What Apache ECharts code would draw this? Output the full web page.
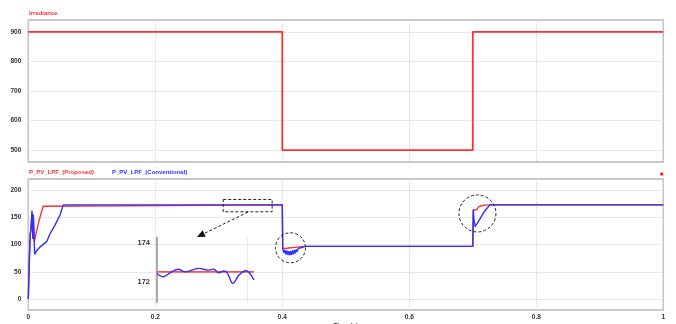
<!DOCTYPE html>
<html>
<head>
<meta charset="utf-8">
<script src="https://cdn.jsdelivr.net/npm/echarts@6/dist/echarts.min.js"></script>
<style>html,body{margin:0;padding:0;background:#fff;}#c{width:676px;height:324px;}</style>
</head>
<body>
<div id="c"></div>
<script>
// ---- data ----
const irrTime = [0, 0.4, 0.4, 0.7, 0.7, 1];
const irrValues = [900, 900, 500, 500, 900, 900];

const propTime = [0, 0.0016, 0.0031, 0.0047, 0.0063, 0.0071, 0.0079, 0.0094, 0.0131, 0.0173, 0.0215, 0.0236, 0.0252,
  0.4, 0.4008, 0.41, 0.42, 0.43, 0.4357,
  0.7, 0.7011, 0.7037, 0.7058, 0.7074, 0.7089, 0.7111, 0.7153, 0.7232, 1];
const propValues = [0, 72, 118, 140, 158, 130, 150, 105, 125, 145, 163, 170, 172.6,
  172.6, 92, 93.5, 94.8, 96, 96.5,
  96.5, 164, 165, 163, 166, 169, 170.5, 171.5, 172.6, 172.6];

const convTime = [0, 0.0016, 0.0031, 0.0040, 0.0058, 0.0071, 0.0079, 0.0100, 0.0131, 0.0173, 0.0289, 0.0341, 0.042, 0.0499, 0.0551,
  0.4, 0.4005, 0.4010, 0.4025, 0.4040, 0.4055, 0.4070, 0.4085, 0.4100, 0.4115, 0.4130, 0.4145, 0.4160, 0.4175,
  0.4190, 0.4205, 0.4220, 0.4235, 0.4250, 0.4265, 0.4280, 0.4295, 0.4320, 0.4357,
  0.7, 0.7006, 0.7016, 0.7037, 0.71, 0.7179, 0.7268, 1];
const convValues = [0, 70, 120, 125, 162, 110, 155, 82, 88.7, 94.2, 105.2, 119.2, 135.6, 153.9, 172.6,
  172.6, 98, 91, 85, 90, 82, 89, 81, 88, 80, 88, 81, 89, 82,
  90, 84, 91, 87, 93, 90, 95, 94, 96, 96.5,
  96.5, 163.6, 148.3, 132.5, 144.7, 159.9, 172.6, 172.6];

// zoomed inset (t = 0.307 .. 0.3834)
const insetTime = [0.307, 0.312, 0.3173, 0.3239, 0.3292, 0.3398, 0.3477, 0.3517, 0.3557, 0.3596, 0.3623, 0.3668, 0.3715, 0.3769, 0.3834];
const insetConv = [172.46, 172.29, 172.49, 172.67, 172.54, 172.72, 172.63, 172.67, 172.49, 172.58, 172.49, 171.95, 172.37, 172.6, 172.12];
const insetPropTime = [0.307, 0.3834];
const insetProp = [172.54, 172.54];

const topTicks = [500, 600, 700, 800, 900];
const bottomTicks = [0, 50, 100, 150, 200];
const insetTicks = [172, 174];
const insetGridX = [0.378];

const seriesNames = ['Irradiance', 'P_PV_LPF_(Proposed)', 'P_PV_LPF_(Conventional)'];

const zip = (a, b) => a.map((t, i) => [t, b[i]]);

// ---- chart ----
const RED = '#ff3030';
const BLUE = '#3030ff';
const FONT = 'Liberation Sans, Arial, sans-serif';
const lab = { fontSize: 6.5, fontWeight: 'bold', color: '#333', fontFamily: FONT };
const split = { show: true, lineStyle: { color: '#d4d4d4', type: [1, 1], width: 1 } };

const chart = echarts.init(document.getElementById('c'), null, { renderer: 'canvas' });
chart.setOption({
  animation: false,
  backgroundColor: '#fff',
  textStyle: { fontFamily: FONT },
  legend: [
    { data: [{ name: seriesNames[0], textStyle: { color: RED } }], left: 23, top: 10, itemWidth: 0, itemHeight: 0,
      padding: 0, textStyle: { fontSize: 6, fontWeight: 'bold', fontFamily: FONT }, selectedMode: false },
    { data: [{ name: seriesNames[1], textStyle: { color: RED } }, { name: seriesNames[2], textStyle: { color: BLUE } }],
      left: 23, top: 169.5, itemWidth: 0, itemHeight: 0, itemGap: 12, padding: 0,
      textStyle: { fontSize: 6, fontWeight: 'bold', fontFamily: FONT }, selectedMode: false }
  ],
  grid: [
    { left: 28.3, right: 12.7, top: 20, height: 142, show: true, borderColor: '#b8b8b8', borderWidth: 1.5,
      backgroundColor: 'transparent', outerBoundsMode: 'none', containLabel: false },
    { left: 28.3, right: 12.7, top: 179, height: 131, show: true, borderColor: '#b8b8b8', borderWidth: 1.5,
      backgroundColor: 'transparent', outerBoundsMode: 'none', containLabel: false },
    { left: 157, width: 97, top: 237.5, height: 64.4, show: false, outerBoundsMode: 'none', containLabel: false }
  ],
  xAxis: [
    { type: 'value', gridIndex: 0, min: 0, max: 1, interval: 0.2, axisLine: { show: false }, axisTick: { show: false },
      axisLabel: { show: false }, splitLine: split },
    { type: 'value', gridIndex: 1, min: 0, max: 1, interval: 0.2, axisLine: { show: false }, axisTick: { show: false },
      axisLabel: Object.assign({ margin: 4 }, lab), splitLine: split,
      name: 'Time (s)', nameLocation: 'middle', nameGap: 13, nameTextStyle: { fontSize: 6.5, fontWeight: 'bold', color: '#333' } },
    { type: 'value', gridIndex: 2, min: 0.307, max: 0.3834, axisLine: { show: false },
      axisTick: { show: false, customValues: insetGridX }, axisLabel: { show: false, customValues: insetGridX },
      splitLine: split }
  ],
  yAxis: [
    { type: 'value', gridIndex: 0, min: 460, max: 940, axisLine: { show: false },
      axisTick: { show: false, customValues: topTicks }, axisLabel: Object.assign({ margin: 7, customValues: topTicks }, lab),
      splitLine: split },
    { type: 'value', gridIndex: 1, min: -20, max: 220, axisLine: { show: false },
      axisTick: { show: false, customValues: bottomTicks }, axisLabel: Object.assign({ margin: 7, customValues: bottomTicks }, lab),
      splitLine: split },
    { type: 'value', gridIndex: 2, min: 171, max: 174.3, axisLine: { show: true, lineStyle: { color: '#aaa', width: 2 } },
      axisTick: { show: false, customValues: insetTicks },
      axisLabel: { margin: 7, customValues: insetTicks, fontSize: 7.5, fontWeight: 'bold', color: '#333', fontFamily: FONT },
      splitLine: { show: false } }
  ],
  series: [
    { name: seriesNames[0], type: 'line', xAxisIndex: 0, yAxisIndex: 0, data: zip(irrTime, irrValues), showSymbol: false,
      lineStyle: { color: RED, width: 1.8 }, itemStyle: { color: RED } },
    { name: seriesNames[1], type: 'line', xAxisIndex: 1, yAxisIndex: 1, data: zip(propTime, propValues), showSymbol: false,
      lineStyle: { color: RED, width: 1.4 }, itemStyle: { color: RED } },
    { name: seriesNames[2], type: 'line', xAxisIndex: 1, yAxisIndex: 1, data: zip(convTime, convValues), showSymbol: false,
      lineStyle: { color: BLUE, width: 1.4 }, itemStyle: { color: BLUE } },
    { name: 'inset_prop', type: 'line', xAxisIndex: 2, yAxisIndex: 2, data: zip(insetPropTime, insetProp), showSymbol: false,
      lineStyle: { color: '#ff5050', width: 1.8 } },
    { name: 'inset_conv', type: 'line', xAxisIndex: 2, yAxisIndex: 2, data: zip(insetTime, insetConv), showSymbol: false,
      smooth: 0.4, lineStyle: { color: BLUE, width: 1.4 } }
  ]
});

// ---- annotations placed via data coordinates ----
const px = (t, v) => chart.convertToPixel({ gridIndex: 1 }, [t, v]);
const r0 = px(0.307, 182.5), r1 = px(0.384, 159.9);
const a0 = px(0.346, 159.5), a1 = px(0.2656, 113.7);
const c1 = px(0.4129, 94), c2 = px(0.7073, 156.9);
const dx = a1[0] - a0[0], dy = a1[1] - a0[1], L = Math.hypot(dx, dy);
const ux = dx / L, uy = dy / L, hl = 8, hw = 3.5;
const base = [a1[0] - ux * hl, a1[1] - uy * hl];
const dash = { stroke: '#222', lineWidth: 1, lineDash: [3, 2], fill: null };
const tr = chart.convertToPixel({ gridIndex: 1 }, [1, 220]);
chart.setOption({
  graphic: [
    { type: 'rect', shape: { x: r0[0], y: r0[1], width: r1[0] - r0[0], height: r1[1] - r0[1] }, style: dash, z: 10 },
    { type: 'line', shape: { x1: a0[0], y1: a0[1], x2: base[0], y2: base[1] }, style: dash, z: 10 },
    { type: 'polygon', shape: { points: [a1, [base[0] - uy * hw, base[1] + ux * hw], [base[0] + uy * hw, base[1] - ux * hw]] },
      style: { fill: '#111' }, z: 10 },
    { type: 'circle', shape: { cx: c1[0], cy: c1[1], r: 15 }, style: dash, z: 10 },
    { type: 'circle', shape: { cx: c2[0], cy: c2[1], r: 18.5 }, style: dash, z: 10 },
    { type: 'rect', shape: { x: tr[0] - 3, y: tr[1] - 6.5, width: 3, height: 3 }, style: { fill: '#ff1a1a' }, z: 10 }
  ]
});
</script>
</body>
</html>
